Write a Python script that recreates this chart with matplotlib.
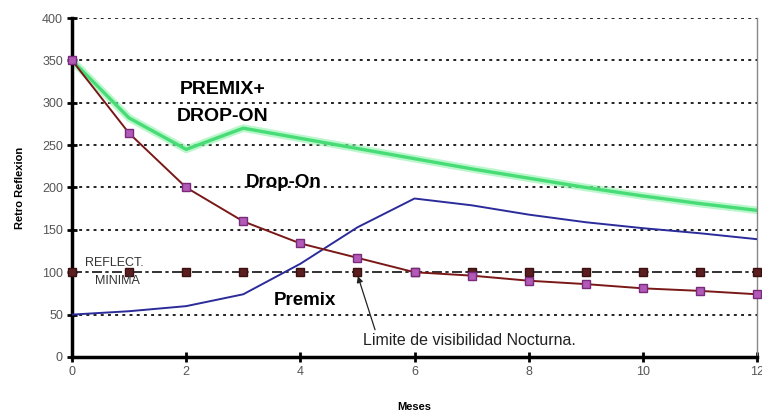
import numpy as np
import matplotlib.pyplot as plt

plt.rcParams['font.family'] = ['Liberation Sans', 'DejaVu Sans']

# Meses 0..12
meses = np.arange(0, 13)

# Retro reflexion por serie
premix_drop_on = [350, 282, 245, 270, 258, 246, 234, 222, 211, 200, 190, 181, 173]
drop_on = [350, 264, 200, 160, 134, 117, 100, 96, 90, 86, 81, 78, 74]
premix = [50, 54, 60, 74, 110, 153, 187, 179, 168, 159, 152, 146, 139]
reflect_minima = [100] * 13

fig = plt.figure(figsize=(7.62, 4.15), dpi=100)
ax = fig.add_axes([0.0945, 0.1398, 0.899, 0.8168])

# dotted horizontal grid
for y in range(50, 401, 50):
    if y == 100:
        continue
    ax.axhline(y, color='#222222', lw=1.4, ls=(0, (1.5, 2.2)), zorder=1)

ax.plot(meses, reflect_minima, color='#111111', lw=1.2, ls=(0, (6, 2, 2, 2)),
        marker='s', ms=5.5, mfc='#5a1e1e', mec='#3a1010', zorder=3, clip_on=False)
ax.plot(meses, premix_drop_on, color='#8ff2aa', lw=5.5, alpha=0.6, zorder=2,
        solid_capstyle='round', solid_joinstyle='round')
ax.plot(meses, premix_drop_on, color='#48dc76', lw=2.4, zorder=2,
        solid_joinstyle='round')
ax.plot(meses, premix, color='#2b2b9a', lw=1.4, zorder=4, solid_joinstyle='round')
ax.plot(meses, drop_on, color='#7a1818', lw=1.4, marker='s', ms=5.5,
        mfc='#b25ab8', mec='#7a2a7a', zorder=5, clip_on=False)

ax.set_xlim(0, 12)
ax.set_ylim(0, 400)
ax.set_xticks(range(0, 13, 2))
ax.set_yticks(range(0, 401, 50))
ax.tick_params(direction='inout', length=7, width=2, labelsize=9,
               labelcolor='#555555', color='black', pad=3)

ax.spines['top'].set_visible(False)
ax.spines['right'].set_color('#888888')
ax.spines['right'].set_linewidth(1)
ax.spines['left'].set_linewidth(2.5)
ax.spines['bottom'].set_linewidth(2.5)

ax.set_ylabel('Retro Reflexion', fontsize=8, fontweight='bold', labelpad=12)
ax.set_xlabel('Meses', fontsize=8, fontweight='bold', labelpad=17)

ax.text(1.88, 316, 'PREMIX+', fontsize=14, fontweight='bold', va='center')
ax.text(1.84, 284, 'DROP-ON', fontsize=14, fontweight='bold', va='center')
ax.text(3.05, 206, 'Drop-On', fontsize=13.5, fontweight='bold', va='center')
ax.text(3.53, 67, 'Premix', fontsize=13.5, fontweight='bold', va='center')
ax.text(0.22, 111, 'REFLECT.', fontsize=9, color='#333333', va='center')
ax.text(0.4, 90, 'MINIMA', fontsize=9, color='#333333', va='center')
ax.annotate('Limite de visibilidad Nocturna.', xy=(5.0, 97), xytext=(5.1, 20),
            fontsize=11.5, color='#222222', va='center', ha='left',
            arrowprops=dict(arrowstyle='-|>', color='#222222', lw=0.9,
                            shrinkA=0, shrinkB=1, mutation_scale=9,
                            relpos=(0.06, 1.0)))

fig.savefig('out.png', dpi=100)
